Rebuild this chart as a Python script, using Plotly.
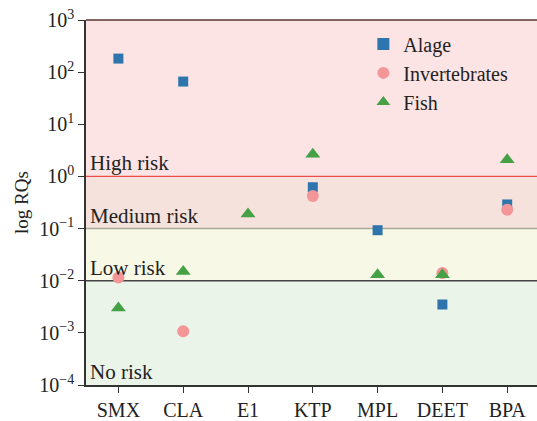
import math
import plotly.graph_objects as go

categories = ["SMX", "CLA", "E1", "KTP", "MPL", "DEET", "BPA"]
alage_cats = ["SMX", "CLA", "KTP", "MPL", "DEET", "BPA"]
alage_vals = [182, 66, 0.62, 0.093, 0.0035, 0.29]
invert_cats = ["SMX", "CLA", "KTP", "DEET", "BPA"]
invert_vals = [0.0115, 0.00107, 0.42, 0.014, 0.23]
fish_cats = ["SMX", "CLA", "E1", "KTP", "MPL", "DEET", "BPA"]
fish_vals = [0.003, 0.015, 0.19, 2.65, 0.013, 0.013, 2.1]

ytick_vals = [1e-4, 1e-3, 1e-2, 1e-1, 1e0, 1e1, 1e2, 1e3]
ytick_text = ["10<sup>−4</sup>", "10<sup>−3</sup>", "10<sup>−2</sup>", "10<sup>−1</sup>",
              "10<sup>0</sup>", "10<sup>1</sup>", "10<sup>2</sup>", "10<sup>3</sup>"]

zones = [  # (label, low, high, fill)
    ("No risk", 1e-4, 1e-2, "#eaf4e8"),
    ("Low risk", 1e-2, 1e-1, "#f8f8e6"),
    ("Medium risk", 1e-1, 1e0, "#f6e2dc"),
    ("High risk", 1e0, 1e3, "#fde4e4"),
]
boundaries = [(1e0, "#ef4b4b", 1.2), (1e-1, "#a8a898", 1.6), (1e-2, "#444444", 1.6)]

FONT = "Times New Roman, Liberation Serif, serif"

fig = go.Figure()
fig.add_trace(go.Scatter(x=alage_cats, y=alage_vals, mode="markers", name="Alage",
                         marker=dict(symbol="square", size=10, color="#2e75ad")))
fig.add_trace(go.Scatter(x=invert_cats, y=invert_vals, mode="markers", name="Invertebrates",
                         marker=dict(symbol="circle", size=12, color="#f49597")))
fig.add_trace(go.Scatter(x=fish_cats, y=fish_vals, mode="markers", name="Fish",
                         marker=dict(symbol="triangle-up", size=13, color="#46a046")))

for label, lo, hi, col in zones:
    fig.add_shape(type="rect", xref="paper", x0=0, x1=1, yref="y", y0=lo, y1=hi,
                  fillcolor=col, line_width=0, layer="below")
    fig.add_annotation(text=label, xref="paper", x=0.004, xanchor="left",
                       yref="y", y=math.log10(lo), yanchor="bottom", yshift=-1,
                       showarrow=False, font=dict(family=FONT, size=21, color="#222"))
for yv, col, w in boundaries:
    fig.add_shape(type="line", xref="paper", x0=0, x1=1, yref="y", y0=yv, y1=yv,
                  line=dict(color=col, width=w), layer="below")

fig.update_layout(
    width=537, height=421,
    margin=dict(l=86, r=0, t=20, b=36),
    paper_bgcolor="white", plot_bgcolor="white",
    font=dict(family=FONT, size=20, color="#222"),
    showlegend=True,
    legend=dict(x=0.615, y=0.988, xanchor="left", yanchor="top",
                bgcolor="rgba(0,0,0,0)", font=dict(family=FONT, size=20),
                itemsizing="constant", tracegroupgap=0),
)
fig.update_xaxes(type="category", categoryorder="array", categoryarray=categories,
                 range=[-0.5, 6.46], showgrid=False, showline=True, linecolor="#333",
                 linewidth=1.5, ticks="outside", ticklen=6, tickcolor="#333",
                 tickfont=dict(family=FONT, size=20, color="#222"))
fig.update_yaxes(type="log", range=[-4, 3], tickvals=ytick_vals, ticktext=ytick_text,
                 showgrid=False, showline=True, linecolor="#333", linewidth=1.5,
                 mirror=False, ticks="outside", ticklen=6, tickcolor="#333",
                 tickfont=dict(family=FONT, size=20, color="#222"),
                 title=dict(text="log RQs", font=dict(family=FONT, size=19, color="#222"), standoff=6))
fig.add_shape(type="line", xref="paper", x0=0, x1=1, yref="paper", y0=1, y1=1,
              line=dict(color="#5a3535", width=1.5))

fig.write_html("out.html")
